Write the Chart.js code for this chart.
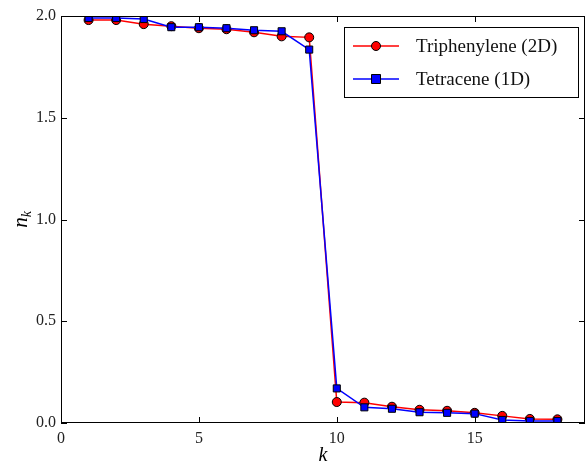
<!DOCTYPE html>
<html>
<head>
<meta charset="utf-8">
<script src="https://cdn.jsdelivr.net/npm/chart.js@4"></script>
<style>
  html, body { margin: 0; padding: 0; background: #fff; }
  #wrap { width: 587px; height: 463px; position: relative; }
</style>
</head>
<body>
<div id="wrap"><canvas id="occChart"></canvas></div>
<script>
// occupation numbers n_k vs k
const kValues = [1, 2, 3, 4, 5, 6, 7, 8, 9, 10, 11, 12, 13, 14, 15, 16, 17, 18];
const triphenylene = [1.98, 1.98, 1.96, 1.95, 1.94, 1.935, 1.92, 1.90, 1.895, 0.103, 0.10, 0.08, 0.065, 0.06, 0.05, 0.035, 0.02, 0.018];
const tetracene = [1.99, 1.99, 1.985, 1.945, 1.945, 1.94, 1.93, 1.925, 1.835, 0.17, 0.077, 0.07, 0.053, 0.05, 0.046, 0.015, 0.01, 0.01];
const xTicks = [0, 5, 10, 15];
const yTicks = [0.0, 0.5, 1.0, 1.5, 2.0];
const seriesNames = ['Triphenylene (2D)', 'Tetracene (1D)'];

const serif = "'Liberation Serif', 'DejaVu Serif', serif";

const toPoints = (xs, ys) => xs.map((x, i) => ({ x: x, y: ys[i] }));

// frame, inward ticks, axis labels, legend
const decorPlugin = {
    id: 'decor',
    afterDraw(chart) {
        const ctx = chart.ctx;
        const a = chart.chartArea;
        const xs = chart.scales.x, ys = chart.scales.y;
        ctx.save();
        ctx.strokeStyle = '#000';
        ctx.lineWidth = 1;
        ctx.strokeRect(a.left + 0.5, a.top + 0.5, a.right - a.left - 1, a.bottom - a.top - 1);
        const tl = 6;
        ctx.beginPath();
        xTicks.forEach(v => {
            const px = Math.round(xs.getPixelForValue(v)) + 0.5;
            ctx.moveTo(px, a.bottom); ctx.lineTo(px, a.bottom - tl);
            ctx.moveTo(px, a.top); ctx.lineTo(px, a.top + tl);
        });
        yTicks.forEach(v => {
            const py = Math.round(ys.getPixelForValue(v)) + 0.5;
            ctx.moveTo(a.left, py); ctx.lineTo(a.left + tl, py);
            ctx.moveTo(a.right, py); ctx.lineTo(a.right - tl, py);
        });
        ctx.stroke();

        // axis labels
        ctx.fillStyle = '#000';
        ctx.font = 'italic 20px ' + serif;
        ctx.textAlign = 'center';
        ctx.textBaseline = 'alphabetic';
        ctx.fillText('k', (a.left + a.right) / 2, 461);

        ctx.save();
        ctx.translate(27, (a.top + a.bottom) / 2);
        ctx.rotate(-Math.PI / 2);
        ctx.textAlign = 'left';
        ctx.font = 'italic 21px ' + serif;
        const nw = ctx.measureText('n').width;
        ctx.font = 'italic 14px ' + serif;
        const kw = ctx.measureText('k').width;
        const start = -(nw + kw) / 2;
        ctx.font = 'italic 21px ' + serif;
        ctx.fillText('n', start, 0);
        ctx.font = 'italic 14px ' + serif;
        ctx.fillText('k', start + nw, 4);
        ctx.restore();

        // legend
        const lx = 344, ly = 27, lw = 234, lh = 70;
        ctx.fillStyle = '#fff';
        ctx.fillRect(lx, ly, lw, lh);
        ctx.strokeStyle = '#000';
        ctx.strokeRect(lx + 0.5, ly + 0.5, lw, lh);
        chart.data.datasets.forEach((ds, i) => {
            const cy = ly + 19 + i * 33;
            ctx.strokeStyle = ds.borderColor;
            ctx.lineWidth = 1.5;
            ctx.beginPath();
            ctx.moveTo(lx + 9, cy); ctx.lineTo(lx + 55, cy);
            ctx.stroke();
            ctx.fillStyle = ds.pointBackgroundColor;
            ctx.strokeStyle = '#000';
            ctx.lineWidth = 1;
            ctx.beginPath();
            if (ds.pointStyle === 'rect') {
                ctx.rect(lx + 32 - 4.5, cy - 4.5, 9, 9);
            } else {
                ctx.arc(lx + 32, cy, 4.5, 0, Math.PI * 2);
            }
            ctx.fill(); ctx.stroke();
            ctx.fillStyle = '#111';
            ctx.font = '19px ' + serif;
            ctx.textAlign = 'left';
            ctx.textBaseline = 'middle';
            ctx.fillText(ds.label, lx + 72, cy + 1);
        });
        ctx.restore();
    }
};

const ctx = document.getElementById('occChart').getContext('2d');
const occChart = new Chart(ctx, {
    type: 'line',
    data: {
        datasets: [{
            label: seriesNames[0],
            data: toPoints(kValues, triphenylene),
            borderColor: '#ff0000',
            backgroundColor: '#ff0000',
            pointBackgroundColor: '#ff0000',
            pointBorderColor: '#000',
            pointBorderWidth: 1,
            pointStyle: 'circle',
            pointRadius: 4.5,
            borderWidth: 1.5,
            tension: 0,
            order: 2
        }, {
            label: seriesNames[1],
            data: toPoints(kValues, tetracene),
            borderColor: '#0000ff',
            backgroundColor: '#0000ff',
            pointBackgroundColor: '#0000ff',
            pointBorderColor: '#000',
            pointBorderWidth: 1,
            pointStyle: 'rect',
            pointRadius: 5,
            borderWidth: 1.5,
            tension: 0,
            order: 1
        }]
    },
    options: {
        responsive: true,
        maintainAspectRatio: false,
        animation: false,
        layout: {
            autoPadding: false,
            padding: { top: 16, right: 2, left: 0, bottom: 0 }
        },
        plugins: {
            legend: { display: false },
            tooltip: { enabled: false }
        },
        scales: {
            x: {
                type: 'linear',
                min: 0,
                max: 19,
                afterFit: s => { s.height = 40; },
                afterBuildTicks: s => { s.ticks = xTicks.map(v => ({ value: v })); },
                grid: { display: false, drawTicks: false },
                border: { display: false },
                ticks: {
                    color: '#222',
                    padding: 6,
                    maxRotation: 0,
                    font: { family: serif, size: 16 }
                }
            },
            y: {
                min: 0,
                max: 2,
                afterFit: s => { s.width = 61; },
                afterBuildTicks: s => { s.ticks = yTicks.map(v => ({ value: v })); },
                grid: { display: false, drawTicks: false },
                border: { display: false },
                ticks: {
                    color: '#222',
                    padding: 5,
                    font: { family: serif, size: 16 },
                    callback: v => v.toFixed(1)
                }
            }
        }
    },
    plugins: [decorPlugin]
});
</script>
</body>
</html>
